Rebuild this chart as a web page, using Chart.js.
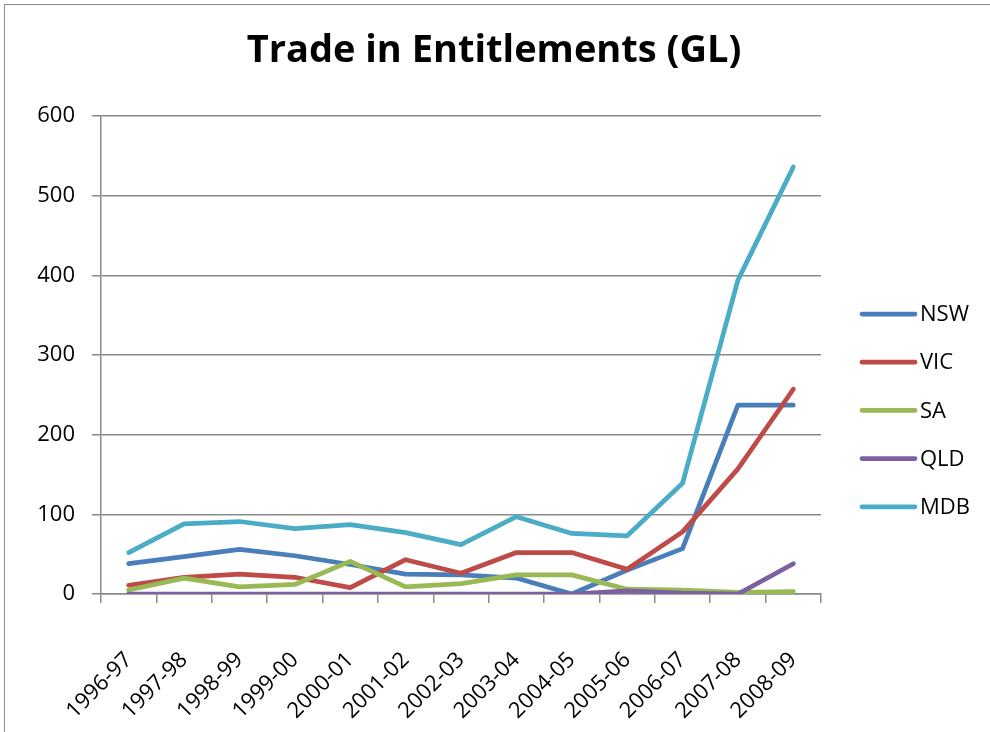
<!DOCTYPE html>
<html>
<head>
<meta charset="utf-8">
<title>Trade in Entitlements (GL)</title>
<script src="https://cdn.jsdelivr.net/npm/chart.js@4/dist/chart.umd.min.js"></script>
<style>
  body { margin: 0; background: #fff; }
  #wrap { position: relative; width: 990px; height: 732px; overflow: hidden; }
  #frame { position: absolute; left: 4px; top: 4px; width: 1000px; height: 800px; border: 1.5px solid #8c8c8c; box-sizing: border-box; }
  #chart { position: absolute; left: 0; top: 0; }
</style>
</head>
<body>
<div id="wrap">
  <div id="frame"></div>
  <canvas id="chart" width="990" height="732"></canvas>
</div>
<script>
// financial years
var years = ['1996-97', '1997-98', '1998-99', '1999-00', '2000-01', '2001-02', '2002-03',
             '2003-04', '2004-05', '2005-06', '2006-07', '2007-08', '2008-09'];

// trade in entitlements, GL
var nsw = [38, 47, 56, 48, 37, 25, 24, 20, 0, 30, 57, 237, 237];
var vic = [11, 21, 25, 21, 8, 43, 26, 52, 52, 31, 78, 157, 257];
var sa  = [5, 20, 9, 12, 41, 9, 13, 24, 24, 6, 5, 2, 3];
var qld = [0, 0, 0, 0, 0, 0, 0, 0, 0, 4, 1, 0, 38];
var mdb = [52, 88, 91, 82, 87, 77, 62, 97, 76, 73, 139, 394, 536];

var yTicks = [0, 100, 200, 300, 400, 500, 600];

var chartTitle = 'Trade in Entitlements (GL)';

var FONT = "'Open Sans', 'Liberation Sans', sans-serif";
var GRID = '#8a8a8a';

function series(label, data, color, order) {
    return {
        label: label,
        data: data,
        borderColor: color,
        backgroundColor: color,
        borderWidth: 4.75,
        borderCapStyle: 'round',
        borderJoinStyle: 'round',
        pointRadius: 0,
        pointHoverRadius: 0,
        tension: 0,
        fill: false,
        order: order
    };
}

// title across the whole canvas, legend on the right (line sample + name)
var decor = {
    id: 'decor',
    afterDraw: function(chart) {
        var ctx = chart.ctx;
        ctx.save();
        ctx.fillStyle = '#000';
        ctx.font = 'bold 38px ' + FONT;
        ctx.textAlign = 'center';
        ctx.textBaseline = 'alphabetic';
        ctx.fillText(chartTitle, 494, 62);

        ctx.font = '22px ' + FONT;
        ctx.textBaseline = 'middle';
        ctx.textAlign = 'left';
        chart.data.datasets.forEach(function(ds, i) {
            var y = 314 + i * 48.2;
            ctx.strokeStyle = ds.borderColor;
            ctx.lineWidth = 4.75;
            ctx.lineCap = 'round';
            ctx.beginPath();
            ctx.moveTo(862, y);
            ctx.lineTo(915, y);
            ctx.stroke();
            ctx.fillStyle = '#000';
            ctx.fillText(ds.label, 920, y + 1);
        });
        ctx.restore();
    }
};

var ctx = document.getElementById('chart').getContext('2d');
var chart = new Chart(ctx, {
    type: 'line',
    data: {
        labels: years,
        datasets: [
            series('NSW', nsw, '#4A7EBB', 5),
            series('VIC', vic, '#BE4B48', 4),
            series('SA', sa, '#98B954', 3),
            series('QLD', qld, '#7D60A0', 2),
            series('MDB', mdb, '#4BACC6', 1)
        ]
    },
    options: {
        responsive: false,
        animation: false,
        events: [],
        layout: { padding: { top: 116, left: 0, right: 169, bottom: 0 } },
        plugins: {
            legend: { display: false },
            tooltip: { enabled: false },
            title: { display: false }
        },
        scales: {
            x: {
                type: 'category',
                offset: true,
                grid: {
                    offset: true,
                    drawOnChartArea: false,
                    drawTicks: true,
                    tickLength: 9,
                    color: GRID,
                    lineWidth: 1.5
                },
                border: { color: GRID, width: 1.5 },
                ticks: {
                    color: '#000',
                    font: { family: FONT, size: 22 },
                    minRotation: 45,
                    maxRotation: 45,
                    autoSkip: false,
                    padding: 44
                },
                afterFit: function(scale) { scale.height = 138; }
            },
            y: {
                min: 0,
                max: 600,
                afterBuildTicks: function(scale) {
                    scale.ticks = yTicks.map(function(v) { return { value: v }; });
                },
                grid: {
                    color: GRID,
                    lineWidth: 1.5,
                    tickLength: 9
                },
                border: { color: GRID, width: 1.5 },
                ticks: {
                    color: '#000',
                    font: { family: FONT, size: 22 },
                    padding: 17
                },
                afterFit: function(scale) { scale.width = 101; }
            }
        }
    },
    plugins: [decor]
});
</script>
</body>
</html>
